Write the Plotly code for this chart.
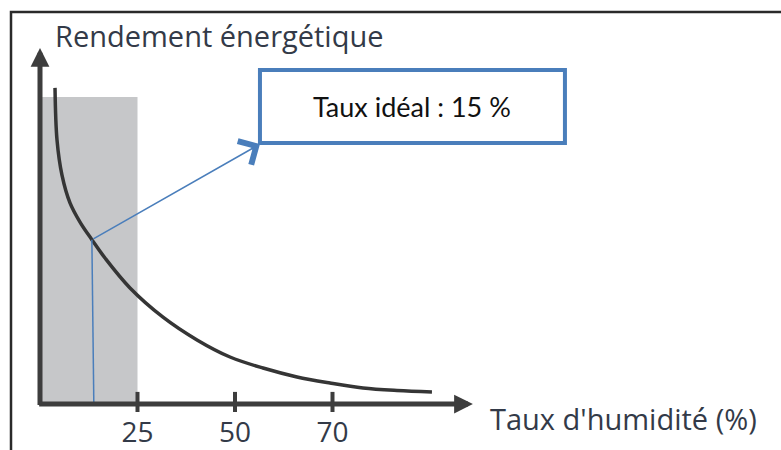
import numpy as np
import plotly.graph_objects as go

# ---- data (schematic units) ----
humidite = [3.85, 4.36, 5.64, 7.69, 10.26, 13.33, 16.67, 23.08, 31.54, 40.26, 48.72,
            57.18, 65.9, 74.36, 82.82, 91.54, 100.5]
rendement = [88.8, 74.2, 64.3, 56.5, 51.1, 46.1, 41.0, 32.6, 24.4, 18.0, 13.2,
             10.1, 7.6, 5.9, 4.5, 3.8, 3.4]

tick_vals = [25, 50, 75]
tick_text = ["25", "50", "70"]

zone_x = [0, 25]          # grey zone (humidity range)
zone_haut = 86.2          # grey zone height

taux_ideal_bas = 13.8     # foot of the blue marker line
taux_ideal_haut = 13.3    # where it meets the curve

boite_x = [56.4, 134.6]   # callout box
boite_y = [73.3, 93.8]
boite_texte = "Taux idéal : 15 %"

titre_y = "Rendement énergétique"
titre_x = "Taux d'humidité (%)"

y_fleche = 100            # top of vertical axis arrow
x_fleche = 111            # end of horizontal axis arrow

# ---- styles ----
AXE = "#3d3d3d"
BLEU = "#4a7ebb"
TXT = "#333a48"
FONT = "Open Sans"

fig = go.Figure()

fig.add_trace(go.Scatter(
    x=humidite, y=rendement, mode="lines",
    line=dict(color="#353535", width=3.5, shape="spline", smoothing=1.0),
    hoverinfo="skip", showlegend=False,
))

shapes = []
# frame
shapes.append(dict(type="rect", xref="paper", yref="paper",
                   x0=11/781, x1=1.2, y0=-0.2, y1=1-12/450,
                   line=dict(color="#2a2a2a", width=2.5), layer="below"))
# grey zone
shapes.append(dict(type="rect", xref="x", yref="y",
                   x0=zone_x[0], x1=zone_x[1], y0=0, y1=zone_haut,
                   fillcolor="#c6c7c9", line=dict(width=0), layer="below"))
# tick marks
for v in tick_vals:
    shapes.append(dict(type="line", xref="x", yref="y", x0=v, x1=v, y0=-2.25, y1=3.4,
                       line=dict(color=AXE, width=4)))
# blue vertical marker line
y_courbe = float(np.interp(taux_ideal_haut, humidite, rendement))
shapes.append(dict(type="line", xref="x", yref="y",
                   x0=taux_ideal_bas, x1=taux_ideal_haut, y0=0.5, y1=y_courbe,
                   line=dict(color=BLEU, width=1.5)))
# callout box
shapes.append(dict(type="rect", xref="x", yref="y",
                   x0=boite_x[0], x1=boite_x[1], y0=boite_y[0], y1=boite_y[1],
                   fillcolor="white", line=dict(color=BLEU, width=4), layer="above"))

annotations = []
# axes with arrows
annotations.append(dict(x=0, y=y_fleche, ax=0, ay=-0.7, xref="x", yref="y", axref="x", ayref="y",
                        text="", showarrow=True, arrowhead=2, arrowsize=0.75, arrowwidth=5,
                        arrowcolor=AXE))
annotations.append(dict(x=x_fleche, y=0, ax=-0.6, ay=0, xref="x", yref="y", axref="x", ayref="y",
                        text="", showarrow=True, arrowhead=2, arrowsize=0.75, arrowwidth=5,
                        arrowcolor=AXE))
# blue arrow to the box
annotations.append(dict(x=boite_x[0], y=boite_y[0] - 0.3, ax=taux_ideal_haut, ay=y_courbe,
                        xref="x", yref="y", axref="x", ayref="y",
                        text="", showarrow=True, arrowhead=4, arrowsize=3.5, arrowwidth=1.5,
                        arrowcolor=BLEU))
# box text
annotations.append(dict(x=(boite_x[0] + boite_x[1]) / 2, y=(boite_y[0] + boite_y[1]) / 2,
                        xref="x", yref="y", text=boite_texte, showarrow=False,
                        font=dict(family="Lato", size=27, color="#111111")))
# axis titles
annotations.append(dict(x=53/781, y=1-36/450, xref="paper", yref="paper", xanchor="left",
                        yanchor="middle", text=titre_y, showarrow=False,
                        font=dict(family=FONT, size=29, color=TXT)))
annotations.append(dict(x=488/781, y=1-418/450, xref="paper", yref="paper", xanchor="left",
                        yanchor="middle", text=titre_x, showarrow=False,
                        font=dict(family=FONT, size=29, color=TXT)))

fig.update_layout(
    width=781, height=450,
    margin=dict(l=0, r=0, t=0, b=0, pad=0, autoexpand=False),
    paper_bgcolor="white", plot_bgcolor="white",
    shapes=shapes, annotations=annotations,
    xaxis=dict(range=[-10.256, 190], anchor="free", position=46/450,
               tickvals=tick_vals, ticktext=tick_text, ticks="", ticklabelstandoff=9,
               showgrid=False, zeroline=False, showline=False, automargin=False,
               tickfont=dict(family=FONT, size=28, color=TXT), fixedrange=True),
    yaxis=dict(range=[-12.92, 113.48], visible=False, automargin=False, fixedrange=True),
    showlegend=False,
)

fig.write_html("out.html", config={"displayModeBar": False},
               post_script="document.body.style.margin='0';document.body.style.overflow='hidden';")
